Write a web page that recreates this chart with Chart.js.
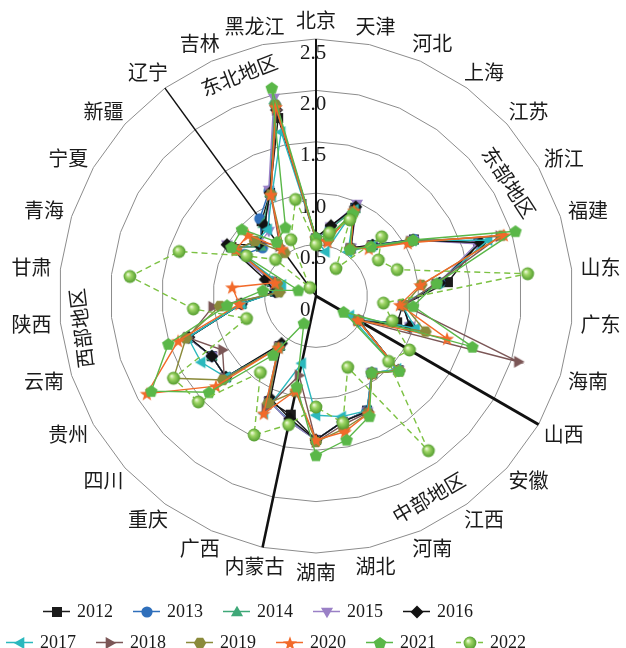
<!DOCTYPE html>
<html>
<head>
<meta charset="utf-8">
<script src="https://cdn.jsdelivr.net/npm/chart.js@4.4.1/dist/chart.umd.min.js"></script>
<style>
  html, body { margin: 0; padding: 0; background: #ffffff; }
  canvas { display: block; }
</style>
</head>
<body>
<canvas id="chart" width="626" height="648"></canvas>
<script>
// Provinces, clockwise from the top
const provinces = ['北京','天津','河北','上海','江苏','浙江','福建','山东','广东','海南',
  '山西','安徽','江西','河南','湖北','湖南',
  '内蒙古','广西','重庆','四川','贵州','云南','陕西','甘肃','青海','宁夏','新疆',
  '辽宁','吉林','黑龙江'];

const years = ['2012','2013','2014','2015','2016','2017','2018','2019','2020','2021','2022'];

const y2012 = [0.56,0.67,0.94,0.57,0.74,1.10,1.66,1.29,0.85,0.83,0.48,1.08,0.93,1.22,1.25,1.40,1.18,1.12,0.60,1.18,1.17,1.31,0.73,0.40,0.45,0.95,0.72,0.90,1.10,1.77];
const y2013 = [0.56,0.67,0.94,0.57,0.74,1.10,1.67,1.21,0.85,0.96,0.48,1.08,0.92,1.22,1.25,1.40,1.24,1.12,0.60,1.18,1.17,1.31,0.73,0.40,0.45,0.81,0.70,0.93,1.12,1.90];
const y2014 = [0.56,0.67,0.93,0.57,0.74,1.09,1.67,1.20,0.85,0.96,0.48,1.08,0.92,1.23,1.25,1.40,1.25,1.12,0.60,1.18,1.17,1.31,0.73,0.40,0.45,0.95,0.72,0.87,1.10,1.95];
const y2015 = [0.56,0.69,0.98,0.58,0.74,1.09,1.64,1.20,0.85,0.96,0.48,1.08,0.92,1.23,1.25,1.40,1.25,1.12,0.60,1.18,1.17,1.31,0.73,0.40,0.45,1.00,0.75,0.78,1.13,1.97];
const y2016 = [0.57,0.70,0.95,0.58,0.74,1.09,1.68,1.21,0.85,0.96,0.48,1.08,0.93,1.23,1.25,1.40,1.22,1.09,0.57,1.18,1.17,1.30,0.73,0.40,0.52,1.00,0.75,0.85,1.10,1.85];
const y2017 = [0.55,0.44,0.92,0.53,0.73,1.08,1.76,1.19,0.84,1.02,0.38,1.06,0.93,1.22,1.20,1.16,0.67,1.25,0.62,1.18,1.29,1.31,0.73,0.38,0.35,0.90,0.79,0.80,1.06,1.63];
const y2018 = [0.54,0.55,0.90,0.57,0.72,1.06,1.88,1.17,0.86,2.07,0.47,1.09,0.93,1.24,1.28,1.42,0.79,1.20,0.62,1.20,1.05,1.31,1.01,0.35,0.40,0.90,0.80,0.60,1.08,1.85];
const y2019 = [0.55,0.56,0.90,0.57,0.71,1.05,1.90,1.03,0.86,1.12,0.47,1.09,0.93,1.25,1.32,1.42,0.95,1.14,0.62,1.22,1.60,1.33,0.94,0.36,0.40,0.90,0.80,0.52,1.08,1.90];
const y2020 = [0.56,0.54,0.91,0.57,0.69,1.03,1.92,1.02,0.82,1.34,0.47,1.08,0.93,1.25,1.35,1.40,0.94,1.25,0.62,1.31,1.90,1.41,0.75,0.82,0.42,0.90,0.89,0.57,1.08,1.88];
const y2021 = [0.57,0.60,0.88,0.56,0.72,1.09,2.04,1.18,0.95,1.60,0.31,1.09,0.92,1.28,1.43,1.55,0.90,0.29,0.71,1.40,1.85,1.51,0.87,0.52,0.18,0.95,0.97,0.65,0.73,2.07];
const y2022 = [0.50,0.63,0.81,0.33,0.86,0.70,0.83,2.07,0.66,0.78,1.05,0.95,1.86,0.76,1.26,1.08,1.28,1.48,0.92,1.54,1.60,0.71,1.20,1.82,1.40,0.78,0.53,0.10,0.60,0.96];

const seriesValues = [y2012, y2013, y2014, y2015, y2016, y2017, y2018, y2019, y2020, y2021, y2022];

// Radial axis
const tickValues = [0, 0.5, 1.0, 1.5, 2.0, 2.5];
const tickLabels = ['0', '0.5', '1.0', '1.5', '2.0', '2.5'];

// Regions: name and the province whose spoke opens the region
const regionNames = ['东部地区', '中部地区', '西部地区', '东北地区'];
const regionStarts = ['北京', '山西', '内蒙古', '辽宁'];

// ---- styling ----
const seriesStyle = [
  { color: '#1b1b1b', marker: 'square' },
  { color: '#2f6fbb', marker: 'circle' },
  { color: '#3fa878', marker: 'triUp' },
  { color: '#9a80c6', marker: 'triDown' },
  { color: '#121212', marker: 'diamond' },
  { color: '#2bb8bd', marker: 'triLeft' },
  { color: '#7b5656', marker: 'triRight' },
  { color: '#8a8a3a', marker: 'hexagon' },
  { color: '#f26a2a', marker: 'star' },
  { color: '#5ab748', marker: 'pentagon' },
  { color: '#7cc142', marker: 'sphere', dash: [6, 4] }
];
const dividerWidths = [2, 3, 2.5, 1.5];
const regionLabelPlacement = [
  { angle: 59.5, dist: 224, rot: 57 },
  { angle: 150.8, dist: 231, rot: -30 },
  { angle: 262.2, dist: 237, rot: -97 },
  { angle: 340.8, dist: 234, rot: -21 }
];
const CENTER_X = 316, CENTER_Y = 296, RADIUS = 257;
const LABEL_FONT = '20px "Noto Sans CJK SC", "Noto Sans CJK JP", sans-serif';
const NUM_FONT = '"Liberation Serif", "DejaVu Serif", serif';

function polygonPath(g, cx, cy, r, n, startDeg) {
  for (let k = 0; k < n; k++) {
    const a = (startDeg + k * 360 / n) * Math.PI / 180;
    const x = cx + r * Math.cos(a), y = cy + r * Math.sin(a);
    if (k === 0) g.moveTo(x, y); else g.lineTo(x, y);
  }
  g.closePath();
}

function makeMarker(kind, color) {
  const s = 18, m = s / 2;
  const c = document.createElement('canvas');
  c.width = s; c.height = s;
  const g = c.getContext('2d');
  g.fillStyle = color;
  g.beginPath();
  switch (kind) {
    case 'square': g.rect(m - 5, m - 5, 10, 10); break;
    case 'circle': g.arc(m, m, 5.6, 0, Math.PI * 2); break;
    case 'triUp': polygonPath(g, m, m + 0.8, 7, 3, -90); break;
    case 'triDown': polygonPath(g, m, m - 0.8, 7, 3, 90); break;
    case 'triLeft': polygonPath(g, m + 0.8, m, 7, 3, 180); break;
    case 'triRight': polygonPath(g, m - 0.8, m, 7, 3, 0); break;
    case 'diamond': polygonPath(g, m, m, 6.5, 4, -90); break;
    case 'hexagon': polygonPath(g, m, m, 6.2, 6, 0); break;
    case 'pentagon': polygonPath(g, m, m + 0.5, 6.6, 5, -90); break;
    case 'star': {
      for (let k = 0; k < 10; k++) {
        const r = k % 2 === 0 ? 7.4 : 3.0;
        const a = (-90 + k * 36) * Math.PI / 180;
        const x = m + r * Math.cos(a), y = m + 0.7 + r * Math.sin(a);
        if (k === 0) g.moveTo(x, y); else g.lineTo(x, y);
      }
      g.closePath();
      break;
    }
    case 'sphere': {
      const grad = g.createRadialGradient(m - 2, m - 2.2, 0.6, m, m, 6.6);
      grad.addColorStop(0, '#e6f6cf');
      grad.addColorStop(0.35, '#9ed565');
      grad.addColorStop(1, '#4f9a2c');
      g.fillStyle = grad;
      g.arc(m, m, 6.4, 0, Math.PI * 2);
      break;
    }
  }
  g.fill();
  return c;
}

const markers = seriesStyle.map(s => makeMarker(s.marker, s.color));

const datasets = years.map((yr, i) => ({
  label: yr,
  data: seriesValues[i],
  borderColor: seriesStyle[i].color,
  backgroundColor: seriesStyle[i].color,
  borderWidth: 1.4,
  borderDash: seriesStyle[i].dash || [],
  fill: false,
  tension: 0,
  pointStyle: markers[i],
  pointRadius: 6,
  pointHoverRadius: 6,
  order: years.length - i
}));

const decorPlugin = {
  id: 'decor',
  beforeDatasetsDraw(chart) {
    const ctx = chart.ctx;
    const r = chart.scales.r;
    ctx.save();
    // region dividers along the opening spoke of each region
    regionStarts.forEach((p, k) => {
      const idx = provinces.indexOf(p);
      const end = r.getPointPosition(idx, r.drawingArea);
      ctx.beginPath();
      ctx.moveTo(r.xCenter, r.yCenter);
      ctx.lineTo(end.x, end.y);
      ctx.lineWidth = dividerWidths[k];
      ctx.strokeStyle = '#111111';
      ctx.stroke();
    });
    // radial tick labels
    ctx.fillStyle = '#1a1a1a';
    ctx.font = '21px ' + NUM_FONT;
    ctx.textAlign = 'left';
    ctx.textBaseline = 'alphabetic';
    tickValues.forEach((v, k) => {
      const y = r.yCenter - r.getDistanceFromCenterForValue(v);
      ctx.fillText(tickLabels[k], r.xCenter - 16, y + 19.5);
    });
    // province labels
    ctx.font = LABEL_FONT;
    ctx.textAlign = 'center';
    ctx.textBaseline = 'middle';
    provinces.forEach((p, i) => {
      const th = i * 2 * Math.PI / provinces.length;
      const sx = Math.sin(th), cy = Math.cos(th);
      const d = r.drawingArea + 9;
      const w = ctx.measureText(p).width, h = 20;
      const x = r.xCenter + d * sx + (w / 2) * sx;
      const y = r.yCenter - d * cy - (h / 2) * cy;
      ctx.fillText(p, x, y);
    });
    // region names, set along the ring
    regionNames.forEach((name, k) => {
      const pl = regionLabelPlacement[k];
      const a = pl.angle * Math.PI / 180;
      const x = r.xCenter + pl.dist * Math.sin(a);
      const y = r.yCenter - pl.dist * Math.cos(a);
      ctx.save();
      ctx.translate(x, y);
      ctx.rotate(pl.rot * Math.PI / 180);
      ctx.fillText(name, 0, 0);
      ctx.restore();
    });
    ctx.restore();
  },
  afterDraw(chart) {
    // legend: line sample with marker, then the year
    const ctx = chart.ctx;
    ctx.save();
    ctx.font = '18px ' + NUM_FONT;
    ctx.fillStyle = '#1a1a1a';
    ctx.textAlign = 'left';
    ctx.textBaseline = 'alphabetic';
    years.forEach((yr, i) => {
      const row = i < 5 ? 0 : 1;
      const col = row === 0 ? i : i - 5;
      const x0 = (row === 0 ? 43 : 6) + col * 90;
      const y = row === 0 ? 611.5 : 642.5;
      const st = seriesStyle[i];
      ctx.beginPath();
      ctx.setLineDash(st.dash ? [5, 6] : []);
      ctx.moveTo(x0, y);
      ctx.lineTo(x0 + 27, y);
      ctx.lineWidth = 1.5;
      ctx.strokeStyle = st.color;
      ctx.stroke();
      ctx.setLineDash([]);
      const mk = markers[i];
      ctx.drawImage(mk, Math.round(x0 + 13.5 - mk.width / 2), Math.round(y - mk.height / 2));
      ctx.fillText(yr, x0 + 34, y + 5.5);
    });
    ctx.restore();
  }
};

new Chart(document.getElementById('chart'), {
  type: 'radar',
  data: { labels: provinces, datasets },
  options: {
    responsive: false,
    animation: false,
    devicePixelRatio: 1,
    events: [],
    layout: { padding: 0 },
    plugins: { legend: { display: false }, tooltip: { enabled: false } },
    scales: {
      r: {
        min: 0,
        max: 2.5,
        startAngle: 0,
        ticks: { display: false, stepSize: 0.5 },
        grid: { color: '#8c8c8c', lineWidth: 1, circular: false },
        angleLines: { display: false },
        pointLabels: { display: false },
        afterFit(scale) {
          scale.xCenter = CENTER_X;
          scale.yCenter = CENTER_Y;
          scale.drawingArea = RADIUS;
        }
      }
    }
  },
  plugins: [decorPlugin]
});
</script>
</body>
</html>
